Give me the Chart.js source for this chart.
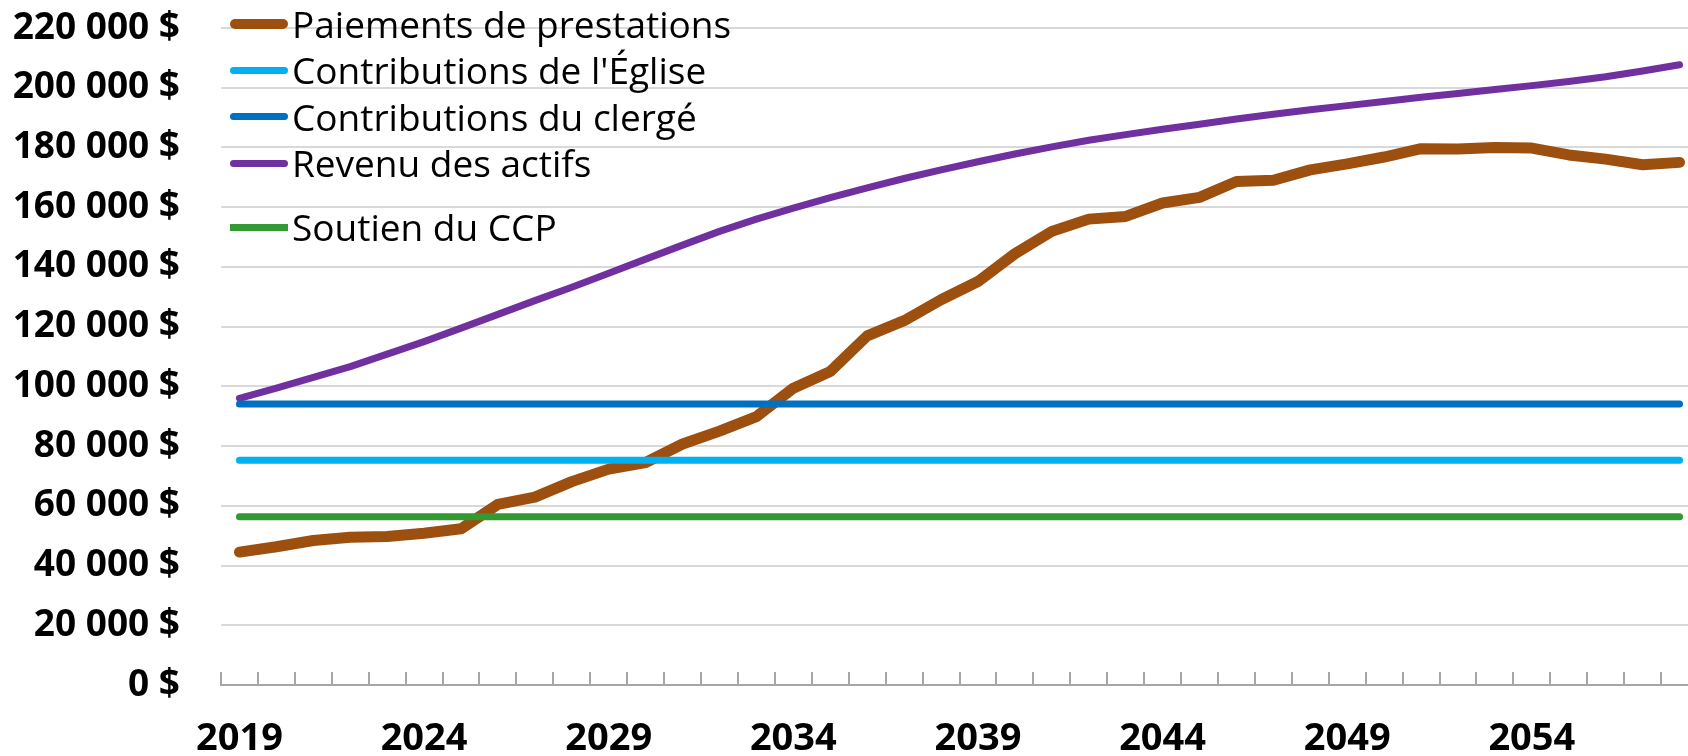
<!DOCTYPE html>
<html>
<head>
<meta charset="utf-8">
<script src="https://cdn.jsdelivr.net/npm/chart.js@4.4.1/dist/chart.umd.min.js"></script>
<style>
html, body { margin: 0; padding: 0; background: #fff; overflow: hidden; }
#wrap { position: relative; width: 1698px; height: 756px; }
#legend { position: absolute; left: 230px; top: 1px; font-family: 'Open Sans', sans-serif; font-size: 37px; color: #000; }
.row { display: flex; align-items: center; height: 46.3px; line-height: 46.3px; white-space: nowrap; }
.row.gap { margin-top: 18px; }
.swatch { width: 58px; margin-right: 4px; }
</style>
</head>
<body>
<div id="wrap">
  <canvas id="myChart1" width="1698" height="756"></canvas>
  <div id="legend"></div>
</div>
<script>
const years = ['2019','2020','2021','2022','2023','2024','2025','2026','2027','2028',
               '2029','2030','2031','2032','2033','2034','2035','2036','2037','2038',
               '2039','2040','2041','2042','2043','2044','2045','2046','2047','2048',
               '2049','2050','2051','2052','2053','2054','2055','2056','2057','2058'];

const paiements = [44500, 46300, 48400, 49500, 49700, 50800, 52300, 60500, 62900, 68100,
                   72300, 74500, 80700, 85000, 89900, 99400, 105000, 116900, 122000, 129000,
                   135100, 144400, 151900, 156000, 156900, 161400, 163300, 168600, 169000, 172500,
                   174500, 176800, 179600, 179500, 180000, 179800, 177500, 176100, 174200, 175000];

const contrib_eglise = [75300, 75300, 75300, 75300, 75300, 75300, 75300, 75300, 75300, 75300,
                        75300, 75300, 75300, 75300, 75300, 75300, 75300, 75300, 75300, 75300,
                        75300, 75300, 75300, 75300, 75300, 75300, 75300, 75300, 75300, 75300,
                        75300, 75300, 75300, 75300, 75300, 75300, 75300, 75300, 75300, 75300];

const contrib_clerge = [94100, 94100, 94100, 94100, 94100, 94100, 94100, 94100, 94100, 94100,
                        94100, 94100, 94100, 94100, 94100, 94100, 94100, 94100, 94100, 94100,
                        94100, 94100, 94100, 94100, 94100, 94100, 94100, 94100, 94100, 94100,
                        94100, 94100, 94100, 94100, 94100, 94100, 94100, 94100, 94100, 94100];

const revenu_actifs = [96000, 99400, 103000, 106600, 110800, 115000, 119500, 124100, 128700, 133200,
                       137900, 142600, 147300, 151900, 156000, 159700, 163200, 166500, 169600, 172500,
                       175200, 177800, 180200, 182400, 184300, 186100, 187800, 189500, 191100, 192600,
                       194000, 195400, 196800, 198100, 199400, 200700, 202100, 203700, 205600, 207700];

const soutien_ccp = [56300, 56300, 56300, 56300, 56300, 56300, 56300, 56300, 56300, 56300,
                     56300, 56300, 56300, 56300, 56300, 56300, 56300, 56300, 56300, 56300,
                     56300, 56300, 56300, 56300, 56300, 56300, 56300, 56300, 56300, 56300,
                     56300, 56300, 56300, 56300, 56300, 56300, 56300, 56300, 56300, 56300];

const y_max = 220000;
const y_step = 20000;

// legend order as in the picture
const series = [
    { label: 'Paiements de prestations', data: paiements, color: '#9C4F0E', width: 11, order: 5 },
    { label: "Contributions de l'Église", data: contrib_eglise, color: '#00B0F0', width: 7, order: 3 },
    { label: 'Contributions du clergé', data: contrib_clerge, color: '#0070C0', width: 7, order: 2 },
    { label: 'Revenu des actifs', data: revenu_actifs, color: '#7030A0', width: 7, order: 4 },
    { label: 'Soutien du CCP', data: soutien_ccp, color: '#339933', width: 7, order: 1 }
];

function money(v) {
    return String(v).replace(/\B(?=(\d{3})+(?!\d))/g, ' ') + ' $';
}

function build_legend() {
    const box = document.getElementById('legend');
    series.forEach(function(s, i) {
        const row = document.createElement('div');
        row.className = 'row' + (i === series.length - 1 ? ' gap' : '');
        const sw = document.createElement('span');
        sw.className = 'swatch';
        sw.style.height = (i === 0 ? 10 : 7) + 'px';
        sw.style.background = s.color;
        sw.style.borderRadius = (i === series.length - 1) ? '0' : '5px';
        const txt = document.createElement('span');
        txt.textContent = s.label;
        row.appendChild(sw);
        row.appendChild(txt);
        box.appendChild(row);
    });
}

function create_chart(chart_id) {
    const ctx = document.getElementById(chart_id).getContext('2d');
    return new Chart(ctx, {
        type: 'line',
        data: {
            labels: years,
            datasets: series.map(function(s) {
                return {
                    label: s.label,
                    data: s.data,
                    borderColor: s.color,
                    backgroundColor: s.color,
                    borderWidth: s.width,
                    borderCapStyle: 'round',
                    borderJoinStyle: 'round',
                    pointRadius: 0,
                    tension: 0,
                    fill: false,
                    order: s.order
                };
            })
        },
        options: {
            responsive: false,
            animation: false,
            layout: { padding: { top: 28, left: 0, right: 0, bottom: 0 } },
            plugins: { legend: { display: false }, tooltip: { enabled: false } },
            scales: {
                x: {
                    offset: true,
                    grid: { offset: true, drawOnChartArea: false, drawTicks: true, tickLength: -13, color: '#a6a6a6', lineWidth: 2 },
                    border: { display: true, color: '#a6a6a6', width: 2 },
                    ticks: {
                        autoSkip: false,
                        maxRotation: 0,
                        padding: 44,
                        color: '#000',
                        font: { family: "'Open Sans', sans-serif", size: 38, weight: 'bold' },
                        callback: function(v, i) { return i % 5 === 0 ? this.getLabelForValue(v) : ''; }
                    },
                    afterFit: function(scale) {
                        scale.height = 71;
                        scale.paddingLeft = 0;
                        scale.paddingRight = 0;
                    }
                },
                y: {
                    min: 0,
                    max: y_max,
                    grid: { color: '#d9d9d9', lineWidth: 2, drawTicks: false },
                    border: { display: false },
                    ticks: {
                        stepSize: y_step,
                        padding: 41,
                        color: '#000',
                        font: { family: "'Open Sans', sans-serif", size: 37, weight: 'bold' },
                        callback: function(v) { return money(v); }
                    },
                    afterFit: function(scale) {
                        scale.width = 221;
                        scale.paddingTop = 0;
                        scale.paddingBottom = 0;
                    }
                }
            }
        }
    });
}

build_legend();
let chart1 = create_chart('myChart1');
</script>
</body>
</html>
